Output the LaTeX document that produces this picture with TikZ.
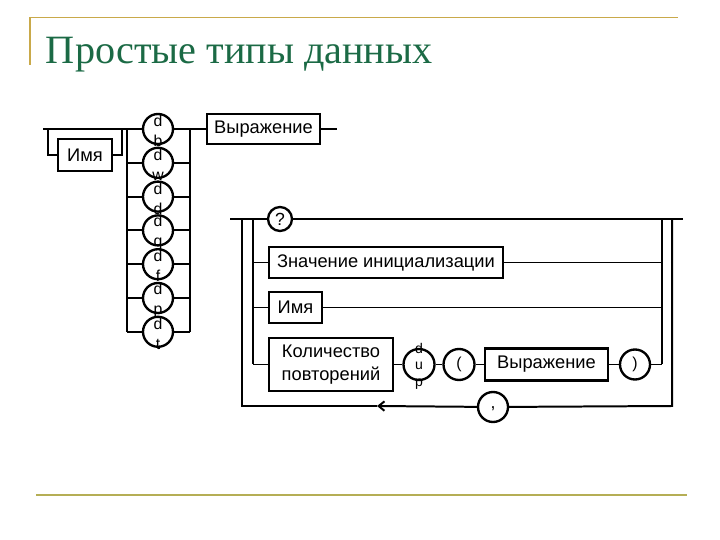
\documentclass[tikz,border=0pt]{standalone}
\usepackage{fontspec}
\setmainfont{Liberation Serif}
\setsansfont{Liberation Sans}
\usetikzlibrary{positioning, arrows.meta}
\definecolor{titlegreen}{HTML}{1B6A45}
\definecolor{rulegold}{HTML}{C9A94A}
\definecolor{ruleolive}{HTML}{B5AE55}
\def\pxu{0.03cm}

\begin{document}
\begin{tikzpicture}[x=0.03cm, y=-0.03cm, line width=1.7pt,
        box/.style={rectangle, draw, line width=2.4pt, inner sep=0pt, align=center, font=\sffamily\fontsize{15.6}{20}\selectfont},
        circ/.style={circle, draw, line width=2pt, inner sep=0pt, minimum size=30*\pxu},
        sym/.style={inner sep=0pt, align=center, font=\sffamily\fontsize{13.5}{17}\selectfont}]
      \useasboundingbox (0,0) rectangle (720,540);
      % Slide frame
      \draw[rulegold, line width=1.6pt] (30,65) -- (30,17.5) -- (678,17.5);
      \draw[ruleolive, line width=1.8pt] (36,495) -- (687,495);
      \node[anchor=base west, inner sep=0pt, text=titlegreen, font=\fontsize{34.3}{38}\selectfont] (title) at (45,64) {Простые типы данных};

      % Data definition
      \node[box, minimum width=54*\pxu, minimum height=32*\pxu] (name1) at (85,155) {Имя};
      \node[box, minimum width=113*\pxu, minimum height=30*\pxu] (expr1) at (263.5,129) {Выражение};
      \foreach \ch [count=\i] in {b,w,d,q,f,p,t} {
        \pgfmathsetmacro{\cy}{129+33.8*(\i-1)}
        \coordinate (l\i) at (127,\cy);
        \coordinate (r\i) at (190,\cy);
        \node[circ] (d\i) at (158,\cy) {};
        \node[sym] (t\i) at (158,\cy+2) {d\\\ch};
        \draw (l\i) -- (d\i) -- (r\i);
      }
      \draw (l1) -- (l7);
      \draw (r1) -- (r7);
      \coordinate (start1) at (43,129);
      \coordinate (end1) at (337,129);
      \coordinate (lp1) at (48,129);
      \coordinate (lp2) at (122,129);
      \draw (start1) -- (l1);
      \draw (r1) -- (expr1) -- (end1);
      \draw (lp1) |- (name1.west);
      \draw (name1.east) -| (lp2);

      % Initializer list
      \node[circ, minimum size=24*\pxu] (quest) at (280,219) {};
      \node[sym, font=\sffamily\fontsize{15}{17}\selectfont] (questtxt) at (280,219) {?};
      \node[box, minimum width=234*\pxu, minimum height=31*\pxu] (init) at (386,262.5) {Значение инициализации};
      \node[box, minimum width=53*\pxu, minimum height=31*\pxu] (name2) at (295.5,307.5) {Имя};
      \node[box, minimum width=124*\pxu, minimum height=53*\pxu] (count) at (331,364.5) {Количество\\повторений};
      \node[circ, minimum size=31*\pxu] (dup) at (419,364.5) {};
      \node[sym, font=\sffamily\fontsize{12}{14}\selectfont] (duptxt) at (419,366) {d\\u\\p};
      \node[circ, minimum size=31*\pxu] (lpar) at (459,364.5) {};
      \node[sym] (lpartxt) at (459,364.5) {(};
      \node[box, minimum width=123*\pxu, minimum height=32*\pxu] (expr2) at (546.5,364.5) {Выражение};
      \node[circ] (rpar) at (635,364.5) {};
      \node[sym] (rpartxt) at (635,364.5) {)};
      \node[circ] (comma) at (493,407) {};
      \node[sym, font=\sffamily\fontsize{15}{17}\selectfont] (commatxt) at (493,409) {,};

      \coordinate (start2) at (230,219);
      \coordinate (end2) at (683,219);
      \coordinate (a0) at (242,219);
      \coordinate (a1) at (253,219);
      \coordinate (b1) at (662,219);
      \coordinate (b0) at (672,219);
      \coordinate (a0b) at (242,406);
      \coordinate (b0b) at (672,406);
      \coordinate (a1b) at (253,364.5);
      \coordinate (b1b) at (662,364.5);
      \coordinate (tip) at (377,406);
      \draw (start2) -- (quest) -- (end2);
      \draw (a1) -- (a1b);
      \draw (b1) -- (b1b);
      \draw (a1 |- init) -- (init) -- (b1 |- init);
      \draw (a1 |- name2) -- (name2) -- (b1 |- name2);
      \draw (a1b) -- (count) -- (dup) -- (lpar) -- (expr2) -- (rpar) -- (b1b);
      \draw (b0) -- (b0b) -- (comma);
      \draw[-{Straight Barb[length=5pt, width=8pt]}] (comma) -- (tip);
      \draw (tip) -- (a0b) -- (a0);
    \end{tikzpicture}
\end{document}
